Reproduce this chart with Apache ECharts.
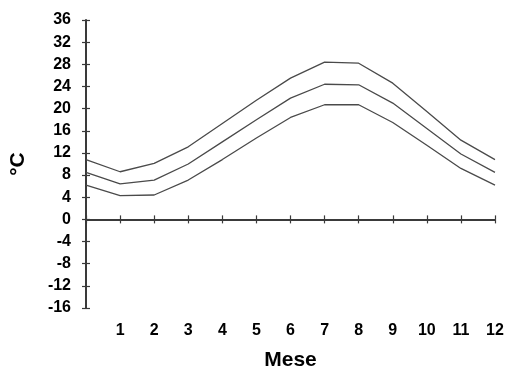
<!DOCTYPE html>
<html>
<head>
<meta charset="utf-8">
<script src="https://cdn.jsdelivr.net/npm/echarts@6/dist/echarts.min.js"></script>
<style>
html,body{margin:0;padding:0;background:#fff;}
#chart{width:506px;height:371px;}
</style>
</head>
<body>
<div id="chart"></div>
<script>
var months = [0,1,2,3,4,5,6,7,8,9,10,11,12];
var tMax = [10.8,8.6,10.1,13.1,17.3,21.5,25.5,28.4,28.2,24.6,19.5,14.3,10.8];
var tMean = [8.5,6.4,7.1,10.0,14.0,18.0,21.9,24.4,24.3,21.0,16.4,11.8,8.5];
var tMin = [6.2,4.3,4.4,7.1,10.8,14.7,18.4,20.7,20.7,17.5,13.4,9.2,6.2];
var yTicks = {min:-16, max:36, interval:4};
var xTicks = {min:0, max:12, interval:1};

function pairs(v){ return months.map(function(m,i){ return [m, v[i]]; }); }

var font = 'Liberation Sans, Arial, sans-serif';
var axisColor = '#3a3a3a';
var lineColor = '#4a4a4a';

var chart = echarts.init(document.getElementById('chart'));
chart.setOption({
  animation:false,
  backgroundColor:'#ffffff',
  grid:{left:86, right:11, top:20, bottom:63, containLabel:false, outerBoundsMode:'none'},
  xAxis:[{
    type:'value', min:xTicks.min, max:xTicks.max, interval:xTicks.interval,
    name:'Mese', nameLocation:'middle', nameGap:42,
    nameTextStyle:{fontFamily:font, fontWeight:'bold', fontSize:21, color:'#000'},
    axisLine:{show:true, lineStyle:{color:axisColor, width:2}},
    axisTick:{show:true, length:4, lineStyle:{color:axisColor, width:1.2}},
    axisLabel:{margin:15, fontFamily:font, fontWeight:'bold', fontSize:16, color:'#000',
      formatter:function(v){ return v===0 ? '' : String(v); }},
    splitLine:{show:false}
  },{
    type:'value', min:xTicks.min, max:xTicks.max, interval:xTicks.interval, position:'bottom',
    axisLine:{show:false},
    axisTick:{show:true, inside:true, length:4, lineStyle:{color:axisColor, width:1.2}},
    axisLabel:{show:false}, splitLine:{show:false}
  }],
  yAxis:[{
    type:'value', min:yTicks.min, max:yTicks.max, interval:yTicks.interval,
    name:'°C', nameLocation:'middle', nameGap:57, nameRotate:90,
    nameTextStyle:{fontFamily:font, fontWeight:'bold', fontSize:21, color:'#000'},
    axisLine:{show:true, lineStyle:{color:axisColor, width:2}},
    axisTick:{show:true, length:4, lineStyle:{color:axisColor, width:1.2}},
    axisLabel:{margin:15, fontFamily:font, fontWeight:'bold', fontSize:16, color:'#000'},
    splitLine:{show:false}
  },{
    type:'value', min:yTicks.min, max:yTicks.max, interval:yTicks.interval, position:'left',
    axisLine:{show:false},
    axisTick:{show:true, inside:true, length:4, lineStyle:{color:axisColor, width:1.2}},
    axisLabel:{show:false}, splitLine:{show:false}
  }],
  series:[tMax, tMean, tMin].map(function(v){
    return {type:'line', data:pairs(v), xAxisIndex:0, yAxisIndex:0,
      showSymbol:false, symbol:'none',
      lineStyle:{color:lineColor, width:1.3}};
  })
});
</script>
</body>
</html>
